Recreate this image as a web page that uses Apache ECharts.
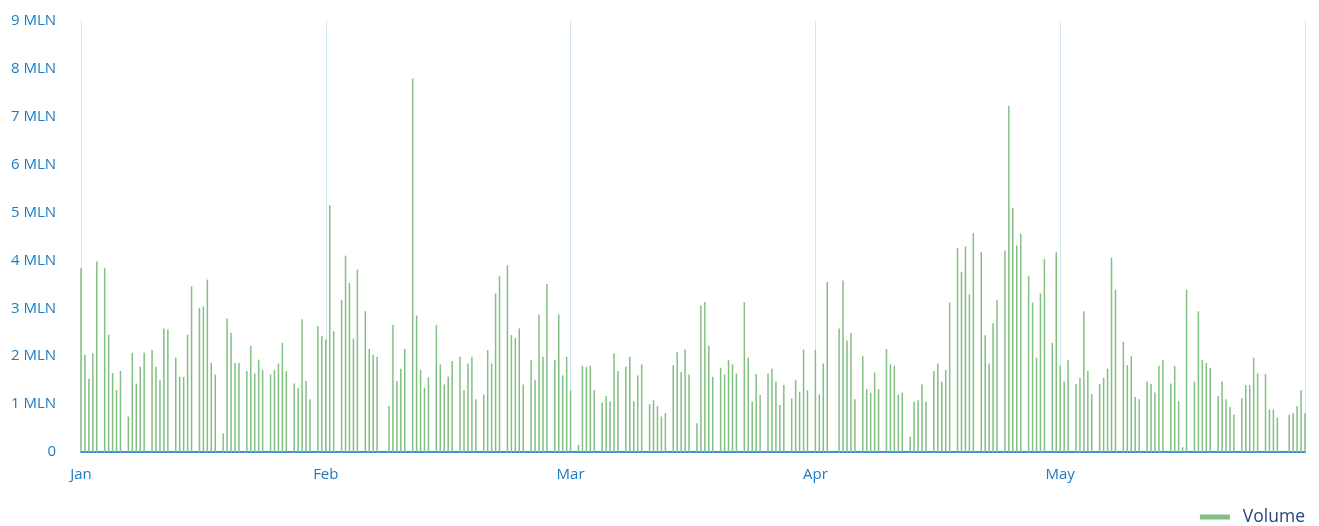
<!DOCTYPE html>
<html>
<head>
<meta charset="utf-8">
<script src="https://cdn.jsdelivr.net/npm/echarts@6/dist/echarts.min.js"></script>
<style>
  html, body { margin: 0; background: #fff; }
  #chart { width: 1319px; height: 526px; }
</style>
</head>
<body>
<div id="chart"></div>
<script>
// daily volume in MLN, one slot per day, null = no trading
const months = ["Jan", "Feb", "Mar", "Apr", "May"];
const slotsPerMonth = 62;

const janVolume = [
  3.84, 2.03, 1.53, 2.06, 3.98, null,
  3.84, 2.45, 1.65, 1.29, 1.69, null,
  0.74, 2.07, 1.43, 1.78, 2.07, null,
  2.13, 1.78, 1.5, 2.58, 2.56, null,
  1.97, 1.57, 1.57, 2.45, 3.46, null,
  3.01, 3.04, 3.6, 1.86, 1.62, null,
  0.39, 2.79, 2.49, 1.86, 1.86, null,
  1.69, 2.22, 1.64, 1.93, 1.71, null,
  1.62, 1.71, 1.85, 2.28, 1.69, null,
  1.43, 1.33, 2.77, 1.48, 1.1, null,
  2.63, 2.42
];
const febVolume = [
  2.35, 5.15, 2.52, null,
  3.17, 4.1, 3.53, 2.37, 3.81, null,
  2.94, 2.15, 2.03, 1.99, null, null,
  0.96, 2.65, 1.48, 1.74, 2.15, null,
  7.8, 2.85, 1.71, 1.34, 1.56, null,
  2.65, 1.83, 1.41, 1.57, 1.9, null,
  1.99, 1.29, 1.85, 1.99, 1.1, null,
  1.2, 2.13, 1.85, 3.31, 3.67, null,
  3.9, 2.44, 2.38, 2.58, 1.41, null,
  1.92, 1.51, 2.87, 1.99, 3.51, null,
  1.92, 2.87, 1.6, 1.99
];
const marVolume = [
  1.29, null,
  0.15, 1.8, 1.78, 1.8, 1.29, null,
  1.03, 1.17, 1.06, 2.06, 1.69, null,
  1.78, 1.99, 1.06, 1.6, 1.83, null,
  1.0, 1.08, 0.96, 0.74, 0.81, null,
  1.81, 2.09, 1.67, 2.14, 1.62, null,
  0.6, 3.06, 3.13, 2.22, 1.57, null,
  1.76, 1.62, 1.92, 1.83, 1.64, null,
  3.13, 1.97, 1.05, 1.63, 1.19, null,
  1.64, 1.74, 1.47, 0.98, 1.4, null,
  1.12, 1.5, 1.26, 2.14, 1.29, null
];
const aprVolume = [
  2.13, 1.2, 1.85, 3.55, null, null,
  2.58, 3.58, 2.33, 2.49, 1.1, null,
  2.0, 1.31, 1.24, 1.66, 1.31, null,
  2.15, 1.83, 1.8, 1.2, 1.24, null,
  0.32, 1.05, 1.08, 1.41, 1.05, null,
  1.69, 1.85, 1.47, 1.71, 3.12, null,
  4.26, 3.76, 4.29, 3.29, 4.57, null,
  4.17, 2.44, 1.85, 2.69, 3.17, null,
  4.21, 7.23, 5.1, 4.31, 4.56, null,
  3.67, 3.12, 1.97, 3.31, 4.03, null,
  2.28, 4.17
];
const mayVolume = [
  1.8, 1.47, 1.92, null,
  1.42, 1.55, 2.94, 1.69, 1.21, null,
  1.42, 1.55, 1.74, 4.06, 3.39, null,
  2.3, 1.81, 2.0, 1.15, 1.1, null,
  1.47, 1.42, 1.24, 1.8, 1.92, null,
  1.43, 1.8, 1.06, 0.1, 3.39, null,
  1.47, 2.94, 1.92, 1.86, 1.76, null,
  1.17, 1.47, 1.1, 0.94, 0.78, null,
  1.12, 1.4, 1.4, 1.97, 1.64, null,
  1.63, 0.89, 0.89, 0.72, null, null,
  0.78, 0.81, 0.96, 1.29, 0.81
];

const volume = [].concat(janVolume, febVolume, marVolume, aprVolume, mayVolume);
const lastSlot = volume.length - 1;
const barData = volume
  .map((v, i) => [i, v])
  .filter((d) => d[1] !== null);

const chart = echarts.init(document.getElementById("chart"));

const labelColor = "#1b7cc2";

chart.setOption({
  animation: false,
  textStyle: { fontFamily: "Open Sans" },
  grid: { left: 81, right: 14, top: 21, bottom: 74 },
  legend: {
    right: 14,
    bottom: 0,
    padding: 0,
    icon: "rect",
    itemWidth: 30,
    itemHeight: 5,
    textStyle: { color: "#22477f", fontSize: 17.5, padding: [0, 0, 0, 8] },
    data: ["Volume"],
  },
  xAxis: {
    type: "value",
    min: 0,
    max: lastSlot,
    interval: slotsPerMonth,
    axisLine: { lineStyle: { color: "#3f8fd2", width: 2 } },
    axisTick: { show: false },
    axisLabel: {
      color: labelColor,
      fontSize: 15,
      margin: 15,
      formatter: (v) => months[v / slotsPerMonth] || "",
    },
    splitLine: { show: true, lineStyle: { color: "#cfe5f1", width: 1 } },
  },
  yAxis: {
    type: "value",
    min: 0,
    max: 9,
    interval: 1,
    axisLine: { show: false },
    axisTick: { show: false },
    splitLine: { show: false },
    axisLabel: {
      color: labelColor,
      fontSize: 15,
      margin: 25,
      padding: [0, 0, 8, 0],
      formatter: (v) => (v === 0 ? "0" : v + " MLN"),
    },
  },
  series: [
    {
      name: "Volume",
      type: "bar",
      barWidth: 1.5,
      itemStyle: { color: "#82bf82" },
      data: barData,
    },
  ],
});
</script>
</body>
</html>
